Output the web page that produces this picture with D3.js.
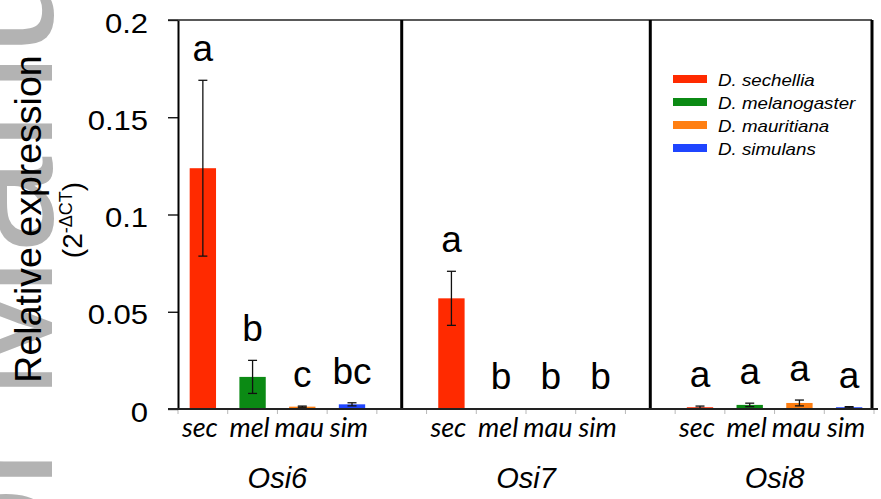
<!DOCTYPE html>
<html>
<head>
<meta charset="utf-8">
<script src="https://cdn.jsdelivr.net/npm/d3@7"></script>
<style>
  html, body { margin: 0; padding: 0; background: #fff; }
  svg { display: block; }
</style>
</head>
<body>
<svg id="chart" width="881" height="499"></svg>
<script>
// Species (bar order inside each gene panel)
const species = ["sec", "mel", "mau", "sim"];
const speciesNames = ["D. sechellia", "D. melanogaster", "D. mauritiana", "D. simulans"];
const speciesColors = ["#ff2a00", "#0b8a14", "#ff7f12", "#1f45ff"];

// Genes (panels)
const genes = ["Osi6", "Osi7", "Osi8"];

// Mean relative expression (2^-ΔCt) and standard error per gene, in species order
const osi6Mean = [0.1238, 0.0165, 0.0012, 0.0024];
const osi6Err  = [0.0452, 0.0085, 0.0003, 0.0008];
const osi7Mean = [0.0569, 0.0004, 0.0004, 0.0004];
const osi7Err  = [0.0139, 0, 0, 0];
const osi8Mean = [0.0009, 0.0021, 0.0031, 0.0009];
const osi8Err  = [0.0006, 0.0009, 0.0015, 0.0003];

// Significance groups
const osi6Letters = ["a", "b", "c", "bc"];
const osi7Letters = ["a", "b", "b", "b"];
const osi8Letters = ["a", "a", "a", "a"];

// Y axis ticks
const yTicks = [0, 0.05, 0.1, 0.15, 0.2];
const yTickLabels = ["0", "0.05", "0.1", "0.15", "0.2"];

// Grey margin watermark glyphs (reading upward along the left edge)
const watermarkGlyphs = ["o", "r", "M", "a", "n", "u"];

const means = [osi6Mean, osi7Mean, osi8Mean];
const errs = [osi6Err, osi7Err, osi8Err];
const letters = [osi6Letters, osi7Letters, osi8Letters];

// Flatten to one record per bar; each gene occupies 4 slots plus a spacer slot
const bars = [];
genes.forEach((g, gi) => {
  species.forEach((s, si) => {
    bars.push({
      gene: g, sp: s, si: si,
      slot: gi * (species.length + 1) + si,
      mean: means[gi][si], err: errs[gi][si], letter: letters[gi][si]
    });
  });
});
const nSlots = genes.length * (species.length + 1) - 1;

const svg = d3.select("#chart");
const plotL = 178, plotR = 874, plotT = 20, plotB = 409;

const x = d3.scaleBand()
  .domain(d3.range(nSlots))
  .range([plotL, plotR])
  .paddingInner(0.47)
  .paddingOuter(0.235);
const step = x.step();

const y = d3.scaleLinear().domain([0, 0.2]).range([plotB, plotT]);

const FONT = "'Liberation Sans', Arial, Helvetica, sans-serif";

// Margin watermark: large grey glyphs running up the left edge
const wmStarts = [584, 489, 401, 254, 151, 56];
const wm = svg.append("text")
  .attr("transform", "rotate(-90)")
  .attr("font-family", FONT)
  .attr("font-size", 175)
  .attr("fill", "#b3b3b3");
wm.selectAll("tspan")
  .data(watermarkGlyphs)
  .join("tspan")
  .attr("x", (d, i) => -wmStarts[i])
  .attr("y", 52)
  .text(d => d);

// Slot boundary ticks under the baseline
const boundaries = d3.range(nSlots + 1).map(i => plotL + i * step);
svg.append("g").selectAll("line")
  .data(boundaries)
  .join("line")
  .attr("x1", d => d).attr("x2", d => d)
  .attr("y1", plotB).attr("y2", plotB + 5)
  .attr("stroke", "#b8b8b8").attr("stroke-width", 1);

// Bars
svg.append("g").selectAll("rect")
  .data(bars)
  .join("rect")
  .attr("x", d => x(d.slot))
  .attr("width", x.bandwidth())
  .attr("y", d => y(d.mean))
  .attr("height", d => Math.max(0, y(0) - y(d.mean)))
  .attr("fill", d => speciesColors[d.si]);

// Error bars
const eb = svg.append("g").attr("stroke", "#111").attr("stroke-width", 1.3)
  .selectAll("g").data(bars.filter(d => d.err > 0)).join("g");
const cap = 4.5;
eb.append("line")
  .attr("x1", d => x(d.slot) + x.bandwidth() / 2)
  .attr("x2", d => x(d.slot) + x.bandwidth() / 2)
  .attr("y1", d => y(d.mean + d.err))
  .attr("y2", d => y(d.mean - d.err));
eb.append("line")
  .attr("x1", d => x(d.slot) + x.bandwidth() / 2 - cap)
  .attr("x2", d => x(d.slot) + x.bandwidth() / 2 + cap)
  .attr("y1", d => y(d.mean + d.err)).attr("y2", d => y(d.mean + d.err));
eb.append("line")
  .attr("x1", d => x(d.slot) + x.bandwidth() / 2 - cap)
  .attr("x2", d => x(d.slot) + x.bandwidth() / 2 + cap)
  .attr("y1", d => y(d.mean - d.err)).attr("y2", d => y(d.mean - d.err));

// Significance letters above each bar
svg.append("g").selectAll("text")
  .data(bars)
  .join("text")
  .attr("x", d => x(d.slot) + x.bandwidth() / 2)
  .attr("y", d => Math.min(y(d.mean + d.err) - 19, 390))
  .attr("text-anchor", "middle")
  .attr("font-family", FONT)
  .attr("font-size", 37)
  .attr("fill", "#000")
  .text(d => d.letter);

// Y axis
const yAxis = d3.axisLeft(y)
  .tickValues(yTicks)
  .tickFormat((d, i) => yTickLabels[i])
  .tickSize(10)
  .tickSizeOuter(0);
const ya = svg.append("g").attr("transform", `translate(${plotL},0)`).call(yAxis);
ya.select(".domain").attr("stroke", "#000").attr("stroke-width", 2);
ya.selectAll(".tick line").attr("stroke", "#000").attr("stroke-width", 1.3);
ya.selectAll(".tick text")
  .attr("font-family", FONT)
  .attr("font-size", 27)
  .attr("fill", "#000")
  .attr("x", -26)
  .attr("dy", null)
  .attr("y", 12)
  .attr("transform", "scale(1.15,1)");

// Frame: top rule, panel separators, right border, baseline
svg.append("line")
  .attr("x1", plotL - 10).attr("x2", 872)
  .attr("y1", plotT).attr("y2", plotT)
  .attr("stroke", "#222").attr("stroke-width", 1.5);
const seps = d3.range(1, genes.length).map(i => x(i * (species.length + 1) - 1) + x.bandwidth() / 2);
svg.append("g").selectAll("line")
  .data(seps.concat([plotR - 2]))
  .join("line")
  .attr("x1", d => d).attr("x2", d => d)
  .attr("y1", plotT).attr("y2", plotB)
  .attr("stroke", "#000").attr("stroke-width", 3);
svg.append("line")
  .attr("x1", plotL - 10).attr("x2", 878)
  .attr("y1", plotB).attr("y2", plotB)
  .attr("stroke", "#222").attr("stroke-width", 2);

// Species labels under bars
svg.append("g").selectAll("text")
  .data(bars)
  .join("text")
  .attr("x", d => x(d.slot) + x.bandwidth() / 2 - 3)
  .attr("y", 437)
  .attr("text-anchor", "middle")
  .attr("font-family", "Lato, 'Open Sans', sans-serif")
  .attr("font-style", "italic")
  .attr("font-size", 27)
  .attr("fill", "#000")
  .text(d => d.sp);

// Gene labels under each panel
svg.append("g").selectAll("text")
  .data(genes)
  .join("text")
  .attr("x", (g, gi) => {
    const a = x(gi * (species.length + 1));
    const b = x(gi * (species.length + 1) + species.length - 1) + x.bandwidth();
    return (a + b) / 2;
  })
  .attr("y", 488)
  .attr("text-anchor", "middle")
  .attr("font-family", FONT)
  .attr("font-style", "italic")
  .attr("font-size", 29)
  .attr("fill", "#000")
  .text(d => d);

// Y axis title
svg.append("text")
  .attr("transform", "translate(41,219) rotate(-90)")
  .attr("text-anchor", "middle")
  .attr("font-family", FONT)
  .attr("font-size", 37.5)
  .attr("fill", "#000")
  .text("Relative expression");
const sub = svg.append("text")
  .attr("transform", "translate(82,220) rotate(-90)")
  .attr("text-anchor", "middle")
  .attr("font-family", FONT)
  .attr("font-size", 28)
  .attr("fill", "#000");
sub.append("tspan").text("(2");
sub.append("tspan").attr("font-size", 18).attr("dy", -10).text("-ΔCT");
sub.append("tspan").attr("dy", 10).text(")");

// Legend
const lg = svg.append("g").attr("transform", "translate(673,79)");
const li = lg.selectAll("g").data(speciesNames).join("g")
  .attr("transform", (d, i) => `translate(0,${i * 23})`);
li.append("rect")
  .attr("x", 0).attr("y", -4)
  .attr("width", 34).attr("height", 8)
  .attr("fill", (d, i) => speciesColors[i]);
li.append("text")
  .attr("transform", "translate(45,7) scale(1.17,1)")
  .attr("font-family", FONT)
  .attr("font-style", "italic")
  .attr("font-size", 16)
  .attr("fill", "#000")
  .text(d => d);
</script>
</body>
</html>
